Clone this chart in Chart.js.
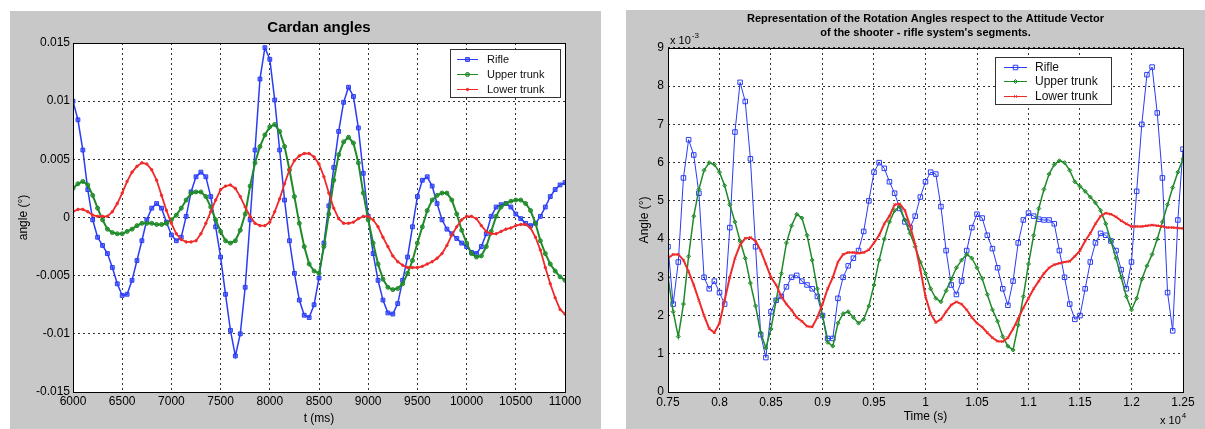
<!DOCTYPE html>
<html>
<head>
<meta charset="utf-8">
<title>Cardan angles / Rotation angles</title>
<script src="https://cdn.jsdelivr.net/npm/chart.js@4.4.1/dist/chart.umd.min.js"></script>
<style>
  body { margin: 0; background: #fff; width: 1205px; height: 429px; overflow: hidden; }
  .panel { position: absolute; background: #c8c8c8; }
  .panel canvas { display: block; }
  #left { left: 10px; top: 11px; width: 591px; height: 418px; }
  #right { left: 626px; top: 10px; width: 579px; height: 419px; }
</style>
</head>
<body>
<div class="panel" id="left"><canvas id="cardan" width="591" height="418"></canvas></div>
<div class="panel" id="right"><canvas id="attitude" width="579" height="419"></canvas></div>
<script>
// ---- left chart: Cardan angles, t = 6000..11000 ms every 50 ms ----
const tMs = Array.from({length: 101}, (_, i) => 6000 + 50 * i);
const msTicks = [6000, 6500, 7000, 7500, 8000, 8500, 9000, 9500, 10000, 10500, 11000];
const angleTicks = [-0.015, -0.01, -0.005, 0, 0.005, 0.01, 0.015];

const rifleCardan = [
  0.0100, 0.0084, 0.0058, 0.0024, -0.0002, -0.0017, -0.0024, -0.0031, -0.0043, -0.0057, // 6000
  -0.0067, -0.0066, -0.0054, -0.0037, -0.0020, -0.0002, 0.0008, 0.0012, 0.0008, -0.0004, // 6500
  -0.0015, -0.0020, -0.0017, 0.0001, 0.0022, 0.0035, 0.0039, 0.0035, 0.0018, -0.0008,   // 7000
  -0.0034, -0.0066, -0.0097, -0.0119, -0.0100, -0.0060, -0.0002, 0.0058, 0.0119, 0.0146, // 7500
  0.0136, 0.0101, 0.0058, 0.0015, -0.0020, -0.0048, -0.0071, -0.0084, -0.0086, -0.0075,  // 8000
  -0.0052, -0.0022, 0.0010, 0.0043, 0.0074, 0.0099, 0.0112, 0.0104, 0.0077, 0.0038,     // 8500
  0.0001, -0.0031, -0.0054, -0.0071, -0.0082, -0.0083, -0.0074, -0.0054, -0.0034, -0.0008, // 9000
  0.0018, 0.0032, 0.0035, 0.0027, 0.0012, -0.0002, -0.0010, -0.0014, -0.0018, -0.0022,  // 9500
  -0.0025, -0.0030, -0.0031, -0.0025, -0.0014, 0.0001, 0.0009, 0.0011, 0.0012, 0.0009,  // 10000
  0.0003, -0.0001, -0.0005, -0.0007, -0.0005, 0.0001, 0.0009, 0.0018, 0.0024, 0.0028,   // 10500
  0.0030
];
const upperCardan = [
  0.0025, 0.0029, 0.0031, 0.0028, 0.0019, 0.0008, -0.0002, -0.0010, -0.0013, -0.0014,
  -0.0014, -0.0012, -0.0010, -0.0007, -0.0005, -0.0005, -0.0005, -0.0006, -0.0006, -0.0005,
  -0.0002, 0.0002, 0.0008, 0.0015, 0.0021, 0.0022, 0.0022, 0.0018, 0.0009, -0.0002,
  -0.0012, -0.0020, -0.0022, -0.0020, -0.0011, 0.0003, 0.0027, 0.0047, 0.0061, 0.0071,
  0.0078, 0.0080, 0.0074, 0.0061, 0.0041, 0.0018, -0.0005, -0.0025, -0.0040, -0.0046,
  -0.0048, -0.0025, 0.0003, 0.0032, 0.0054, 0.0065, 0.0069, 0.0064, 0.0047, 0.0021,
  -0.0002, -0.0022, -0.0040, -0.0053, -0.0060, -0.0062, -0.0061, -0.0057, -0.0048, -0.0037,
  -0.0022, -0.0008, 0.0006, 0.0015, 0.0019, 0.0021, 0.0021, 0.0015, 0.0003, -0.0011,
  -0.0022, -0.0031, -0.0034, -0.0033, -0.0025, -0.0012, 0.0001, 0.0009, 0.0012, 0.0014,
  0.0015, 0.0015, 0.0012, 0.0006, -0.0005, -0.0020, -0.0031, -0.0040, -0.0046, -0.0051,
  -0.0054
];
const lowerCardan = [
  0.0005, 0.0007, 0.0007, 0.0005, 0.0002, 0.0001, 0.0001, 0.0001, 0.0005, 0.0012,
  0.0021, 0.0031, 0.0039, 0.0044, 0.0047, 0.0046, 0.0041, 0.0032, 0.0019, 0.0006,
  -0.0005, -0.0014, -0.0019, -0.0021, -0.0021, -0.0020, -0.0014, -0.0005, 0.0005, 0.0015,
  0.0024, 0.0027, 0.0028, 0.0025, 0.0018, 0.0009, 0.0001, -0.0005, -0.0007, -0.0007,
  -0.0004, 0.0005, 0.0016, 0.0029, 0.0041, 0.0049, 0.0053, 0.0055, 0.0055, 0.0052,
  0.0046, 0.0035, 0.0021, 0.0008, -0.0001, -0.0005, -0.0005, -0.0004, -0.0001, 0.0001,
  0.0001, -0.0002, -0.0008, -0.0017, -0.0025, -0.0033, -0.0038, -0.0041, -0.0043, -0.0043,
  -0.0043, -0.0042, -0.0040, -0.0038, -0.0035, -0.0031, -0.0024, -0.0015, -0.0008, -0.0002,
  0.0001, 0.0001, -0.0001, -0.0007, -0.0012, -0.0014, -0.0014, -0.0012, -0.0010, -0.0009,
  -0.0007, -0.0006, -0.0006, -0.0009, -0.0017, -0.0028, -0.0043, -0.0057, -0.0069, -0.0079,
  -0.0083
];

// ---- right chart: time in x10^4 s (0.75..1.25 every 0.005), angle in x10^-3 ----
const tE4 = Array.from({length: 101}, (_, i) => +(0.75 + 0.005 * i).toFixed(3));
const timeTicks = [0.75, 0.8, 0.85, 0.9, 0.95, 1, 1.05, 1.1, 1.15, 1.2, 1.25];
const angleTicksE3 = [0, 1, 2, 3, 4, 5, 6, 7, 8, 9];

const rifleAtt = [
  3.8, 2.3, 3.4, 5.6, 6.6, 6.2, 5.2, 3.0, 2.7, 2.9,      // 0.75
  2.6, 2.3, 4.3, 6.8, 8.1, 7.6, 6.1, 3.8, 1.5, 0.9,      // 0.80
  2.1, 2.4, 2.5, 2.75, 3.0, 3.05, 2.9, 2.8, 2.7, 2.5,    // 0.85
  2.0, 1.4, 1.4, 2.45, 3.0, 3.3, 3.5, 3.7, 4.2, 5.0,     // 0.90
  5.75, 6.0, 5.85, 5.5, 5.2, 4.8, 4.45, 4.3, 4.6, 5.1,   // 0.95
  5.5, 5.75, 5.7, 4.85, 3.7, 2.8, 2.55, 2.9, 3.7, 4.3,   // 1.00
  4.65, 4.55, 4.1, 3.75, 3.25, 2.7, 2.27, 2.9, 3.9, 4.5, // 1.05
  4.68, 4.6, 4.52, 4.5, 4.5, 4.4, 3.7, 3.0, 2.3, 1.9,    // 1.10
  2.0, 2.7, 3.4, 3.9, 4.15, 4.1, 3.95, 3.7, 3.2, 2.7,    // 1.15
  3.4, 5.25, 7.0, 8.3, 8.5, 7.3, 5.6, 2.6, 1.6, 4.5,     // 1.20
  6.35
];
const upperAtt = [
  3.0, 2.1, 1.45, 2.3, 3.55, 4.6, 5.3, 5.8, 6.0, 5.95,
  5.75, 5.4, 4.9, 4.45, 3.95, 3.5, 2.85, 2.25, 1.55, 1.15,
  1.65, 2.4, 3.1, 3.9, 4.35, 4.65, 4.55, 4.1, 3.45, 2.7,
  2.0, 1.3, 1.2, 1.8, 2.05, 2.1, 1.95, 1.8, 1.9, 2.25,
  2.8, 3.45, 4.0, 4.45, 4.75, 4.85, 4.5, 4.15, 3.8, 3.4,
  3.1, 2.7, 2.45, 2.36, 2.65, 2.95, 3.25, 3.45, 3.6, 3.5,
  3.25, 2.97, 2.55, 2.15, 1.85, 1.45, 1.2, 1.1, 1.75, 2.5,
  3.35, 4.1, 4.8, 5.3, 5.7, 5.95, 6.05, 6.0, 5.8, 5.5,
  5.38, 5.25, 5.1, 4.95, 4.75, 4.4, 3.95, 3.5, 3.0, 2.5,
  2.15, 2.45, 2.95, 3.3, 3.6, 4.0, 4.45, 4.9, 5.35, 5.75,
  6.1
];
const lowerAtt = [
  3.5, 3.6, 3.6, 3.45, 3.15, 2.8, 2.4, 2.0, 1.66, 1.55,
  1.8, 2.4, 3.0, 3.5, 3.85, 4.02, 4.04, 3.95, 3.7, 3.35,
  3.0, 2.8, 2.5, 2.3, 2.14, 1.95, 1.85, 1.72, 1.7, 1.95,
  2.3, 2.7, 3.0, 3.4, 3.6, 3.65, 3.65, 3.63, 3.65, 3.72,
  3.9, 4.1, 4.4, 4.6, 4.9, 4.92, 4.75, 4.35, 3.85, 3.2,
  2.5, 2.05, 1.82, 1.9, 2.1, 2.28, 2.36, 2.3, 2.15, 1.95,
  1.8, 1.7, 1.55, 1.42, 1.33, 1.32, 1.42, 1.65, 1.92, 2.2,
  2.45, 2.7, 2.9, 3.1, 3.25, 3.33, 3.37, 3.4, 3.42, 3.55,
  3.7, 3.95, 4.15, 4.4, 4.6, 4.68, 4.65, 4.58, 4.48, 4.4,
  4.33, 4.33, 4.33, 4.35, 4.37, 4.35, 4.33, 4.3, 4.3, 4.29,
  4.28
];

const FONT = '"Liberation Sans", Arial, Helvetica, sans-serif';
const BLUE = '#2a3cf5', GREEN = '#1f8a28', RED = '#f02a2a';

function pts(xs, ys) {
  return xs.map((x, i) => ({x: x, y: ys[i]}));
}

function series(label, xs, ys, color, width, style, radius, fill, order) {
  return {
    label: label, data: pts(xs, ys), order: order,
    borderColor: color, borderWidth: width, tension: 0,
    pointStyle: style, pointRadius: radius, pointBorderWidth: 1,
    pointBorderColor: color, pointBackgroundColor: fill, backgroundColor: fill
  };
}

// white plot area, black box, legend box and exponent notes
const matlabBox = {
  id: 'matlabBox',
  beforeDraw(chart) {
    const {ctx, chartArea: a} = chart;
    ctx.save();
    ctx.fillStyle = '#fff';
    ctx.fillRect(a.left, a.top, a.right - a.left, a.bottom - a.top);
    ctx.restore();
  },
  afterDatasetsDraw(chart, args, opts) {
    const {ctx, chartArea: a} = chart;
    ctx.save();
    ctx.strokeStyle = '#000';
    ctx.lineWidth = 1;
    ctx.strokeRect(Math.round(a.left) + 0.5, Math.round(a.top) + 0.5,
                   Math.round(a.right - a.left), Math.round(a.bottom - a.top));

    // legend
    const lg = opts.legend;
    ctx.fillStyle = '#fff';
    ctx.fillRect(lg.x, lg.y, lg.w, lg.h);
    ctx.strokeStyle = '#333';
    ctx.strokeRect(lg.x + 0.5, lg.y + 0.5, lg.w, lg.h);
    ctx.font = lg.font + 'px ' + FONT;
    ctx.textBaseline = 'middle';
    chart.data.datasets.forEach((d, i) => {
      const y = lg.rows[i];
      ctx.strokeStyle = d.borderColor;
      ctx.lineWidth = 1;
      ctx.beginPath();
      ctx.moveTo(lg.x1, y + 0.5);
      ctx.lineTo(lg.x2, y + 0.5);
      ctx.stroke();
      ctx.fillStyle = d.pointBackgroundColor;
      Chart.helpers.drawPoint(ctx, {pointStyle: d.pointStyle, radius: d.pointRadius,
        borderWidth: 1, rotation: 0}, (lg.x1 + lg.x2) / 2, y + 0.5);
      ctx.fillStyle = '#111';
      ctx.fillText(d.label, lg.tx, y + 0.5);
    });

    // "x 10^n" notes
    (opts.notes || []).forEach(n => {
      ctx.fillStyle = '#000';
      ctx.textBaseline = 'alphabetic';
      ctx.font = '11px ' + FONT;
      ctx.fillText(n.text, n.x, n.y);
      const w = ctx.measureText(n.text).width;
      ctx.font = '8px ' + FONT;
      ctx.fillText(n.sup, n.x + w + 1, n.y - 6);
    });
    ctx.restore();
  }
};

function xAxis(min, max, step, title, pad, titlePad, fmt) {
  return {
    type: 'linear', min: min, max: max,
    afterFit(s) { s.height = 37; },
    ticks: {stepSize: step, autoSkip: false, maxRotation: 0, padding: pad,
            color: '#000', font: {size: 12, family: FONT}, callback: fmt},
    grid: {color: 'rgba(0,0,0,0.8)', lineWidth: 1, drawTicks: false},
    border: {display: false, dash: [2, 3]},
    title: {display: true, text: title, color: '#000', font: {size: 12, family: FONT},
            padding: {top: 0, bottom: titlePad}}
  };
}

function yAxis(min, max, step, title, width, pad, titlePad, fmt) {
  return {
    type: 'linear', min: min, max: max,
    afterFit(s) { s.width = width; },
    ticks: {stepSize: step, padding: pad, color: '#000',
            font: {size: 12, family: FONT}, callback: fmt},
    grid: {color: 'rgba(0,0,0,0.8)', lineWidth: 1, drawTicks: false},
    border: {display: false, dash: [2, 3]},
    title: {display: true, text: title, color: '#000', font: {size: 12, family: FONT},
            padding: {top: titlePad, bottom: 0}}
  };
}

new Chart(document.getElementById('cardan'), {
  type: 'line',
  data: {
    datasets: [
      series('Rifle', tMs, rifleCardan, BLUE, 1.5, 'rect', 2.7, 'rgba(50,70,250,0.6)', 2),
      series('Upper trunk', tMs, upperCardan, GREEN, 2, 'circle', 2, 'rgba(30,140,40,0.6)', 1),
      series('Lower trunk', tMs, lowerCardan, RED, 1.8, 'circle', 1.2, RED, 0)
    ]
  },
  options: {
    responsive: false,
    animation: false,
    layout: {padding: {left: 0, right: 36, top: 0, bottom: 0}},
    scales: {
      x: xAxis(msTicks[0], msTicks[msTicks.length - 1], 500, 't (ms)', 2, 3, v => String(v)),
      y: yAxis(angleTicks[0], angleTicks[angleTicks.length - 1], 0.005, 'angle (°)', 63, 3, 6,
               v => String(+v.toFixed(3)))
    },
    plugins: {
      legend: {display: false},
      tooltip: {enabled: false},
      title: {display: true, text: 'Cardan angles', color: '#000', fullSize: false,
              font: {size: 15, weight: 'bold', family: FONT}, padding: {top: 8, bottom: 6}},
      matlabBox: {
        legend: {x: 440, y: 38, w: 110, h: 48, rows: [48, 63, 78], x1: 447, x2: 468, tx: 477, font: 11}
      }
    }
  },
  plugins: [matlabBox]
});

new Chart(document.getElementById('attitude'), {
  type: 'line',
  data: {
    datasets: [
      series('Rifle', tE4, rifleAtt, BLUE, 1, 'rect', 3.2, 'rgba(255,255,255,0)', 2),
      series('Upper trunk', tE4, upperAtt, GREEN, 1.5, 'rectRot', 2, 'rgba(30,140,40,0.3)', 1),
      series('Lower trunk', tE4, lowerAtt, RED, 2, 'crossRot', 1.8, RED, 0)
    ]
  },
  options: {
    responsive: false,
    animation: false,
    layout: {padding: {left: 0, right: 22, top: 0, bottom: 0}},
    scales: {
      x: xAxis(timeTicks[0], timeTicks[timeTicks.length - 1], 0.05, 'Time (s)', 3, 5,
               v => String(+v.toFixed(2))),
      y: yAxis(angleTicksE3[0], angleTicksE3[angleTicksE3.length - 1], 1, 'Angle (°)', 42, 4, 11,
               v => String(Math.round(v)))
    },
    plugins: {
      legend: {display: false},
      tooltip: {enabled: false},
      title: {display: true, fullSize: false, color: '#000',
              text: ['Representation of the Rotation Angles respect to the Attitude Vector',
                     "of the shooter - rifle system's segments."],
              font: {size: 11, weight: 'bold', family: FONT, lineHeight: 1.27},
              padding: {top: 2, bottom: 8}},
      matlabBox: {
        legend: {x: 369, y: 47, w: 116, h: 47, rows: [57, 71, 86], x1: 378, x2: 401, tx: 409, font: 12},
        notes: [{text: 'x 10', sup: '-3', x: 44, y: 34}, {text: 'x 10', sup: '4', x: 534, y: 414}]
      }
    }
  },
  plugins: [matlabBox]
});
</script>
</body>
</html>
